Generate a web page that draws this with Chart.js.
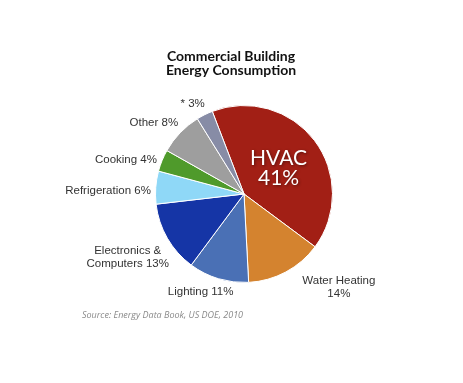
<!DOCTYPE html>
<html>
<head>
<meta charset="utf-8">
<script src="https://cdn.jsdelivr.net/npm/chart.js@4/dist/chart.umd.min.js"></script>
<style>
  html, body { margin:0; padding:0; background:#fff; }
  #wrap { position:relative; width:463px; height:383px; }
</style>
</head>
<body>
<div id="wrap"><canvas id="pie" width="463" height="383"></canvas></div>
<script>
// data
const categories = ['HVAC', 'Water Heating', 'Lighting', 'Electronics & Computers', 'Refrigeration', 'Cooking', 'Other', '*'];
const shares = [41, 14, 11, 13, 6, 4, 8, 3];
const labelLines = [
  ['HVAC', '41%'],
  ['Water Heating', '14%'],
  ['Lighting 11%'],
  ['Electronics &', 'Computers 13%'],
  ['Refrigeration 6%'],
  ['Cooking 4%'],
  ['Other 8%'],
  ['* 3%']
];
const colors = ['#a21f15', '#d4832f', '#4a70b5', '#1535a6', '#8fd8f7', '#4f9a2b', '#9e9e9e', '#878ca6'];

const titleLines = ['Commercial Building', 'Energy Consumption'];
const sourceText = 'Source: Energy Data Book, US DOE, 2010';

// label nudges (layout only), index matches categories
const nudge = [[0,0],[32,-3],[-6,-1],[3,9],[3,4],[0,5],[-3,0],[-3,2]];

const pieLabels = {
  id: 'pieLabels',
  afterDraw(chart){
    const ctx = chart.ctx;
    const arcs = chart.getDatasetMeta(0).data;
    ctx.save();
    ctx.textBaseline = 'middle';
    arcs.forEach((arc, i) => {
      const mid = (arc.startAngle + arc.endAngle) / 2;
      const dx = Math.cos(mid), dy = Math.sin(mid);
      const lines = labelLines[i];
      if (i === 0) {
        // inside label for HVAC
        const r = arc.outerRadius * 0.49;
        const x = arc.x + dx * r, y = arc.y + dy * r;
        ctx.font = '21px Lato';
        ctx.fillStyle = '#fff';
        ctx.textAlign = 'center';
        ctx.shadowColor = 'rgba(0,0,0,0.45)';
        ctx.shadowBlur = 3;
        ctx.shadowOffsetX = 1; ctx.shadowOffsetY = 1;
        ctx.fillText(lines[0], x, y - 10);
        ctx.fillText(lines[1], x, y + 10);
        ctx.shadowColor = 'transparent';
        return;
      }
      ctx.font = '11.5px "Liberation Sans"';
      ctx.fillStyle = '#333';
      ctx.textAlign = 'center';
      const lh = 13;
      const w = Math.max(...lines.map(l => ctx.measureText(l).width));
      const h = lh * lines.length;
      const r = arc.outerRadius + 8;
      const ax = arc.x + dx * r, ay = arc.y + dy * r;
      const left = ax - w * (1 - dx) / 2 + nudge[i][0];
      const top = ay - h * (1 - dy) / 2 + nudge[i][1];
      lines.forEach((l, k) => ctx.fillText(l, left + w / 2, top + lh * k + lh / 2));
    });

    // title
    ctx.font = 'bold 14px Lato';
    ctx.fillStyle = '#111';
    ctx.textAlign = 'center';
    titleLines.forEach((t, k) => ctx.fillText(t, 231, 56 + k * 14));

    // source
    ctx.font = 'italic 9px "Open Sans"';
    ctx.fillStyle = '#8a8a8a';
    ctx.textAlign = 'left';
    ctx.fillText(sourceText, 82, 315);
    ctx.restore();
  }
};

new Chart(document.getElementById('pie').getContext('2d'), {
  type: 'pie',
  data: {
    labels: categories,
    datasets: [{
      data: shares,
      backgroundColor: colors,
      borderColor: '#fff',
      borderWidth: 1
    }]
  },
  options: {
    responsive: false,
    animation: false,
    rotation: -21,
    layout: { padding: { left: 155, right: 130, top: 105, bottom: 100 } },
    plugins: { legend: { display: false }, tooltip: { enabled: false }, title: { display: false } }
  },
  plugins: [pieLabels]
});
</script>
</body>
</html>
